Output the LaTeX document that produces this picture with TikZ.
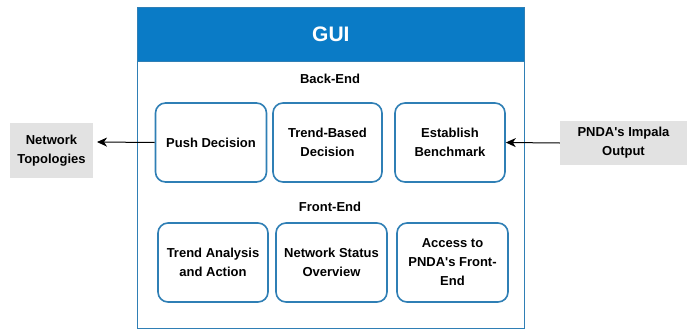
\documentclass[tikz,border=0pt]{standalone}
\usepackage{fontspec}
\setmainfont{Liberation Sans}
\usetikzlibrary{arrows.meta}
\definecolor{guiblue}{HTML}{0A7BC6}
\definecolor{boxblue}{HTML}{2F7FB5}
\definecolor{grayfill}{HTML}{E2E2E2}
\newcommand{\apos}{\textquotesingle}
\tikzset{
  card/.style={draw=boxblue, line width=1.6pt, rounded corners=10pt, fill=white,
    align=center, font=\bfseries\fontsize{13}{19}\selectfont, inner sep=0pt},
  extbox/.style={fill=grayfill, align=center, font=\bfseries\fontsize{13}{19}\selectfont, inner sep=0pt},
  lbl/.style={font=\bfseries\fontsize{13}{15}\selectfont},
  arr/.style={-{Stealth[length=10pt,width=9pt,inset=3pt]}, line width=1pt, black}
}
\begin{document}
\begin{tikzpicture}[x=1pt,y=-1pt]
\useasboundingbox (0,0) rectangle (688,332);
% outer frame
\node[draw=boxblue, line width=0.8pt, minimum width=387pt, minimum height=321pt, anchor=north west, inner sep=0pt] (frame) at (137,7) {};
\node[fill=guiblue, draw=boxblue, line width=0.8pt, minimum width=387pt, minimum height=54pt, anchor=north west, inner sep=0pt,
  text=white, font=\bfseries\fontsize{21}{24}\selectfont] (gui) at (137,7) {GUI};
\node[lbl] (back) at (330,79) {Back-End};
\node[lbl] (front) at (330,207) {Front-End};
% back-end cards
\node[card, minimum width=111pt, minimum height=79pt] (push) at (211,142.5) {Push Decision};
\node[card, minimum width=109pt, minimum height=79pt] (trend) at (327.5,142.5) {Trend-Based\\Decision};
\node[card, minimum width=110pt, minimum height=79pt] (bench) at (450,142.5) {Establish\\Benchmark};
% front-end cards
\node[card, minimum width=110pt, minimum height=79pt] (ana) at (213,262.5) {Trend Analysis\\and Action};
\node[card, minimum width=111pt, minimum height=79pt] (stat) at (331.5,262.5) {Network Status\\Overview};
\node[card, minimum width=111pt, minimum height=79pt] (acc) at (452.5,262.5) {Access to\\PNDA\apos s Front-\\End};
% external
\node[extbox, minimum width=83pt, minimum height=55pt] (topo) at (51.5,150.5) {Network\\Topologies};
\node[extbox, minimum width=127pt, minimum height=44pt] (impala) at (623.5,143) {PNDA\apos s Impala\\Output};
% arrows
\coordinate (ta) at (97,142);
\draw[arr] (push.west) -- (ta);
\draw[arr] (impala.west) -- (bench.east);
\end{tikzpicture}
\end{document}
